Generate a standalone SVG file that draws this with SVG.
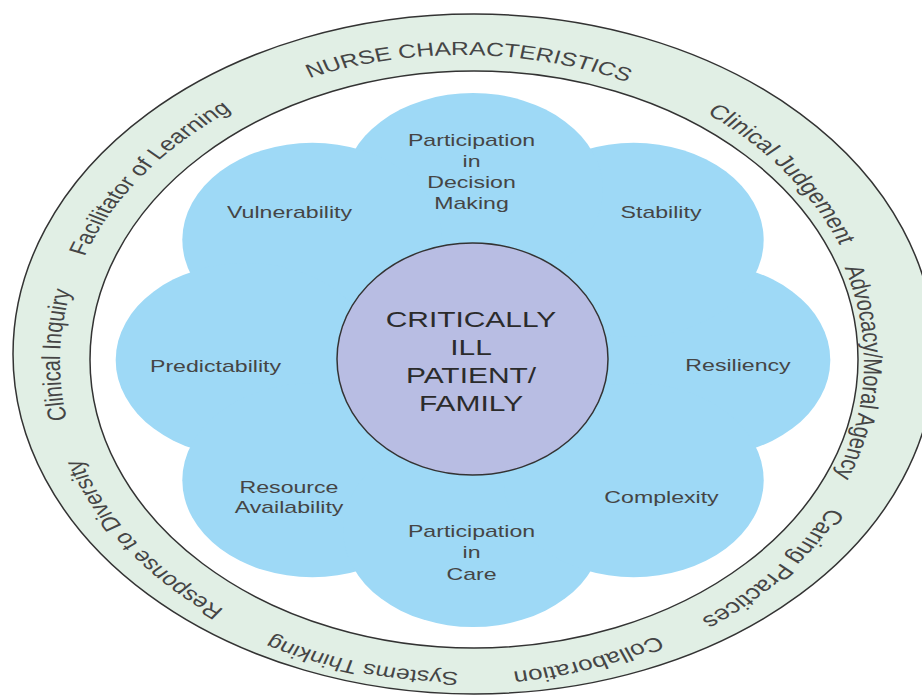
<svg xmlns="http://www.w3.org/2000/svg" width="922" height="700" viewBox="0 0 922 700">
<style>
.ring{font-family:"Liberation Sans",Arial,sans-serif;fill:#454545;text-anchor:middle;}
.lbl{font-family:"Liberation Sans",Arial,sans-serif;font-size:17px;fill:#454545;text-anchor:middle;}
.ctr{font-family:"Liberation Sans",Arial,sans-serif;font-size:22px;fill:#2b2b2b;text-anchor:middle;}
.lobe{fill:#9ED9F6;}
.edge{stroke:#333;stroke-width:1.5;}
</style>
<defs>
<path id="p1" d="M246.2,141.2 A309.2,307 0 0 1 683.4,148.7"/>
<path id="p2" d="M501.9,53.7 A313.5,311 0 0 1 771.8,402.6"/>
<path id="p3" d="M687.1,152.6 A309.2,307 0 0 1 671.9,586.5"/>
<path id="p4" d="M778.7,340.0 A318.5,315 0 0 1 483.2,676.2"/>
<path id="p5" d="M739.4,503.6 A312.5,312 0 0 1 319.1,640.0"/>
<path id="p6" d="M620.1,628.5 A311.5,310 0 0 1 193.1,520.3"/>
<path id="p7" d="M412.6,665.2 A309.2,307 0 0 1 155.6,314.0"/>
<path id="p8" d="M237.4,574.1 A309.2,307 0 0 1 247.4,140.0"/>
<path id="p9" d="M154.5,402.1 A309.2,307 0 0 1 420.6,57.6"/>
</defs>
<rect width="922" height="700" fill="#ffffff"/>
<g id="ring">
<ellipse class="edge" cx="474" cy="354" rx="461" ry="340" fill="#E1EFE5"/>
<ellipse class="edge" cx="474" cy="359.5" rx="384" ry="288.5" fill="#ffffff"/>
</g>
<g id="flower">
<ellipse class="lobe" cx="473" cy="360" rx="287" ry="215"/>
<ellipse class="lobe" cx="700.3" cy="360" rx="130" ry="97"/>
<ellipse class="lobe" cx="633.7" cy="239.8" rx="130" ry="97"/>
<ellipse class="lobe" cx="473" cy="190" rx="130" ry="97"/>
<ellipse class="lobe" cx="312.3" cy="239.8" rx="130" ry="97"/>
<ellipse class="lobe" cx="245.7" cy="360" rx="130" ry="97"/>
<ellipse class="lobe" cx="312.3" cy="480.2" rx="130" ry="97"/>
<ellipse class="lobe" cx="473" cy="530" rx="130" ry="97"/>
<ellipse class="lobe" cx="633.7" cy="480.2" rx="130" ry="97"/>
</g>
<g id="connectors"></g>
<g id="ring-labels" transform="translate(462 0) scale(1.3 1) translate(-461 0)">
<g id="nurse-characteristics"><text class="ring" font-size="19"><textPath href="#p1" startOffset="50%">NURSE CHARACTERISTICS</textPath></text></g>
<g id="clinical-judgement"><text class="ring" font-size="20"><textPath href="#p2" startOffset="50%">Clinical Judgement</textPath></text></g>
<g id="advocacy"><text class="ring" font-size="20"><textPath href="#p3" startOffset="50%">Advocacy/Moral Agency</textPath></text></g>
<g id="caring-practices"><text class="ring" font-size="20.5"><textPath href="#p4" startOffset="50%">Caring Practices</textPath></text></g>
<g id="collaboration"><text class="ring" font-size="20"><textPath href="#p5" startOffset="50%">Collaboration</textPath></text></g>
<g id="systems-thinking"><text class="ring" font-size="19"><textPath href="#p6" startOffset="50%">Systems Thinking</textPath></text></g>
<g id="response-to-diversity"><text class="ring" font-size="19.5"><textPath href="#p7" startOffset="50%">Response to Diversity</textPath></text></g>
<g id="clinical-inquiry"><text class="ring" font-size="20"><textPath href="#p8" startOffset="50%">Clinical Inquiry</textPath></text></g>
<g id="facilitator-of-learning"><text class="ring" font-size="19.5"><textPath href="#p9" startOffset="50%">Facilitator of Learning</textPath></text></g>
</g>
<g id="participation-decision">
<text class="lbl" transform="translate(471.5 146) scale(1.36 1)">Participation</text>
<text class="lbl" transform="translate(471.5 167) scale(1.36 1)">in</text>
<text class="lbl" transform="translate(471.5 188) scale(1.36 1)">Decision</text>
<text class="lbl" transform="translate(471.5 209) scale(1.36 1)">Making</text>
</g>
<g id="vulnerability"><text class="lbl" transform="translate(289.5 218) scale(1.36 1)">Vulnerability</text></g>
<g id="stability"><text class="lbl" transform="translate(661 218) scale(1.36 1)">Stability</text></g>
<g id="predictability"><text class="lbl" transform="translate(215.5 372) scale(1.36 1)">Predictability</text></g>
<g id="resiliency"><text class="lbl" transform="translate(738 371) scale(1.36 1)">Resiliency</text></g>
<g id="resource-availability">
<text class="lbl" transform="translate(289 492.5) scale(1.36 1)">Resource</text>
<text class="lbl" transform="translate(289 513) scale(1.36 1)">Availability</text>
</g>
<g id="complexity"><text class="lbl" transform="translate(661.5 503) scale(1.36 1)">Complexity</text></g>
<g id="participation-care">
<text class="lbl" transform="translate(471.5 537) scale(1.36 1)">Participation</text>
<text class="lbl" transform="translate(471.5 558) scale(1.36 1)">in</text>
<text class="lbl" transform="translate(471.5 580) scale(1.36 1)">Care</text>
</g>
<g id="patient">
<ellipse class="edge" cx="472.5" cy="359" rx="135.5" ry="116" fill="#B8BDE3" stroke-width="1.3"/>
<text class="ctr" transform="translate(471 327) scale(1.36 1)">CRITICALLY</text>
<text class="ctr" transform="translate(471 355) scale(1.36 1)">ILL</text>
<text class="ctr" transform="translate(471 383) scale(1.36 1)">PATIENT/</text>
<text class="ctr" transform="translate(471 411) scale(1.36 1)">FAMILY</text>
</g>
</svg>
